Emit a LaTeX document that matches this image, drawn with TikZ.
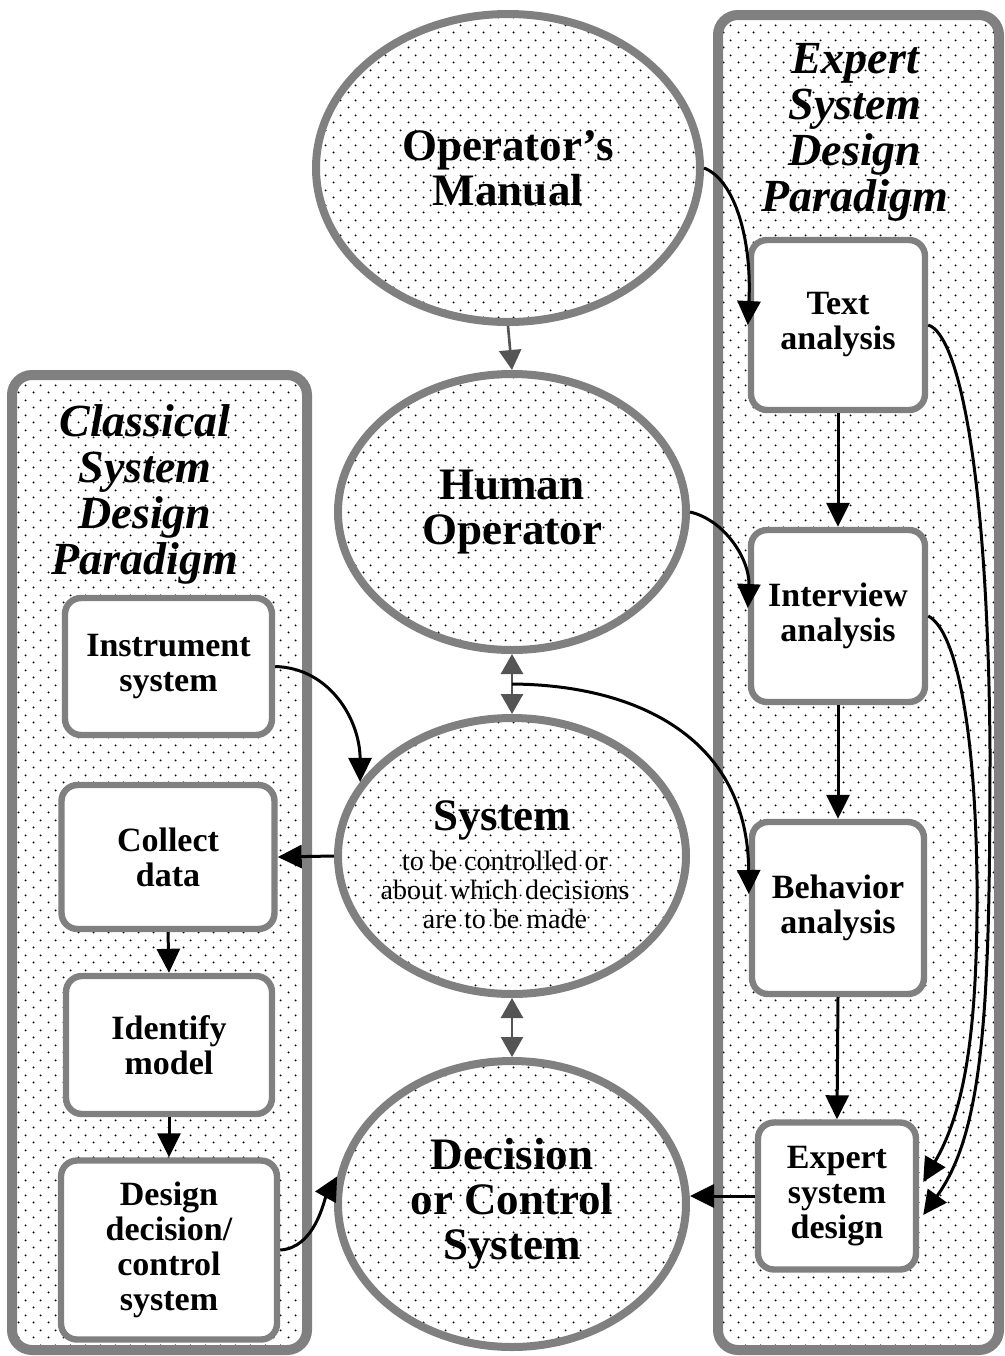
\documentclass[tikz,border=0pt]{standalone}
\usepackage{fontspec}
\setmainfont{Liberation Serif}
\usetikzlibrary{patterns,shapes.geometric,arrows.meta,calc}

% sparse staggered dot screen used for panel and ellipse backgrounds
\pgfdeclarepatternformonly{screendots}{\pgfqpoint{0pt}{0pt}}{\pgfqpoint{7.5pt}{7.5pt}}{\pgfqpoint{7.5pt}{7.5pt}}{%
  \pgfpathcircle{\pgfqpoint{1.875pt}{1.875pt}}{0.55pt}%
  \pgfpathcircle{\pgfqpoint{5.625pt}{5.625pt}}{0.55pt}%
  \pgfusepath{fill}}

\definecolor{rimgray}{gray}{0.5}
\definecolor{linkgray}{gray}{0.33}

\newcommand\bigtxt{\fontsize{22.5}{22.5}\selectfont\bfseries}
\newcommand\boxtxt{\fontsize{17}{17.5}\selectfont\bfseries}
\newcommand\smalltxt{\fontsize{14}{14.3}\selectfont}
\newcommand\titletxt{\fontsize{23}{23}\selectfont\bfseries\itshape}

\begin{document}
\begin{tikzpicture}[x=0.5pt,y=0.5pt,
  panel/.style={draw=rimgray, line width=5pt, rounded corners=10pt,
    preaction={fill=white}, pattern=screendots, pattern color=black},
  paneltitle/.style={align=center, font=\titletxt, inner sep=0pt},
  stepbox/.style={draw=rimgray, line width=3.2pt, rounded corners=8pt,
    fill=white, align=center, font=\boxtxt, inner sep=0pt},
  ell/.style={ellipse, draw=rimgray, line width=4pt, inner sep=0pt,
    preaction={fill=white}, pattern=screendots, pattern color=black,
    align=center, font=\bigtxt},
  conn/.style={line width=1.5pt, -{Triangle[width=11.5pt,length=12pt]}},
  glink/.style={draw=linkgray, line width=1.3pt, -{Triangle[width=11pt,length=10pt]}},
  gboth/.style={draw=linkgray, line width=1.3pt,
    {Triangle[width=11pt,length=10pt]}-{Triangle[width=11pt,length=10pt]}}
]
\useasboundingbox (0,0) rectangle (1005,-1356);
\fill[white] (0,0) rectangle (1005,-1356);

% the two paradigm panels
\draw[panel] (12,-375) rectangle (307,-1350);
\draw[panel] (718,-15) rectangle (999,-1350);
\node[paneltitle] (cltitle) at (145,-494) {Classical\\System\\Design\\Paradigm};
\node[paneltitle] (extitle) at (855,-132) {Expert\\System\\Design\\Paradigm};

% classical paradigm steps
\node[stepbox, minimum width=103.5pt, minimum height=68.5pt] (inst) at (168.5,-666.5) {Instrument\\system};
\node[stepbox, minimum width=106.5pt, minimum height=72pt] (collect) at (168,-857) {Collect\\data};
\node[stepbox, minimum width=103pt, minimum height=69pt] (identify) at (169,-1045) {Identify\\model};
\node[stepbox, minimum width=108pt, minimum height=89.5pt] (design) at (169,-1250) {Design\\decision/\\control\\system};

% expert paradigm steps
\node[stepbox, minimum width=87pt, minimum height=85pt] (text) at (838,-325) {Text\\analysis};
\node[stepbox, minimum width=87pt, minimum height=86pt] (interview) at (838,-616) {Interview\\analysis};
\node[stepbox, minimum width=86pt, minimum height=86pt] (behavior) at (838,-908) {Behavior\\analysis};
\node[stepbox, minimum width=79pt, minimum height=73.5pt] (expert) at (837,-1196) {Expert\\system\\design};

% central column
\node[ell, minimum width=192pt, minimum height=154pt] (om) at (508,-168) {Operator's\\Manual};
\node[ell, minimum width=174pt, minimum height=138pt] (ho) at (512,-512) {Human\\Operator};
\node[ell, minimum width=174pt, minimum height=138pt] (sys) at (512,-856) {};
\node[font=\bigtxt, inner sep=0pt] (systitle) at (502,-820) {System};
\node[font=\smalltxt, align=center, inner sep=0pt] (sysnote) at (505,-890) {to be controlled or\\about which decisions\\are to be made};
\node[ell, minimum width=174pt, minimum height=143pt] (dec) at (512,-1204) {Decision\\or Control\\System};

% grey links between the central ellipses
\draw[glink] (om.south) -- (ho.north);
\draw[gboth] (ho.south) -- (sys.north);
\draw[gboth] (sys.south) -- (dec.north);
\coordinate (jn) at ($(ho.south)!0.5!(sys.north)$);

% connector end points
\coordinate (intIn) at ($(interview.west)+(0,8)$);
\coordinate (behIn) at ($(behavior.west)+(0,14)$);
\coordinate (tipA) at ($(expert.east)+(4,14)$);
\coordinate (tipB) at ($(expert.east)+(4,-19)$);

% expert paradigm flow
\draw[conn] (om.east) .. controls (735,-180) and (752,-240) .. (text.west);
\draw[conn] (ho.east) .. controls (725,-520) and (750,-560) .. (intIn);
\draw[conn] (jn) .. controls (640,-685) and (748,-740) .. (behIn);
\draw[conn] (text.south) -- (interview.north);
\draw[conn] (interview.south) -- (behavior.north);
\draw[conn] (behavior.south) -- (expert.north);
\draw[conn] (text.east) .. controls (960,-335) and (988,-480) .. (990,-750)
  .. controls (990,-1000) and (985,-1130) .. (tipB);
\draw[conn] (interview.east) .. controls (955,-630) and (975,-720) .. (977,-880)
  .. controls (978,-1030) and (965,-1110) .. (tipA);
\draw[conn] (expert.west) -- (expert.west -| dec.east);

% classical paradigm flow
\draw[conn] (inst.east) .. controls (330,-668) and (360,-720) .. (sys.154);
\draw[conn] (sys.west) -- (collect.east);
\draw[conn] (collect.south) -- (identify.north);
\draw[conn] (identify.south) -- (design.north);
\draw[conn] (design.east) .. controls (315,-1248) and (324,-1200) .. (dec.171);
\end{tikzpicture}
\end{document}
